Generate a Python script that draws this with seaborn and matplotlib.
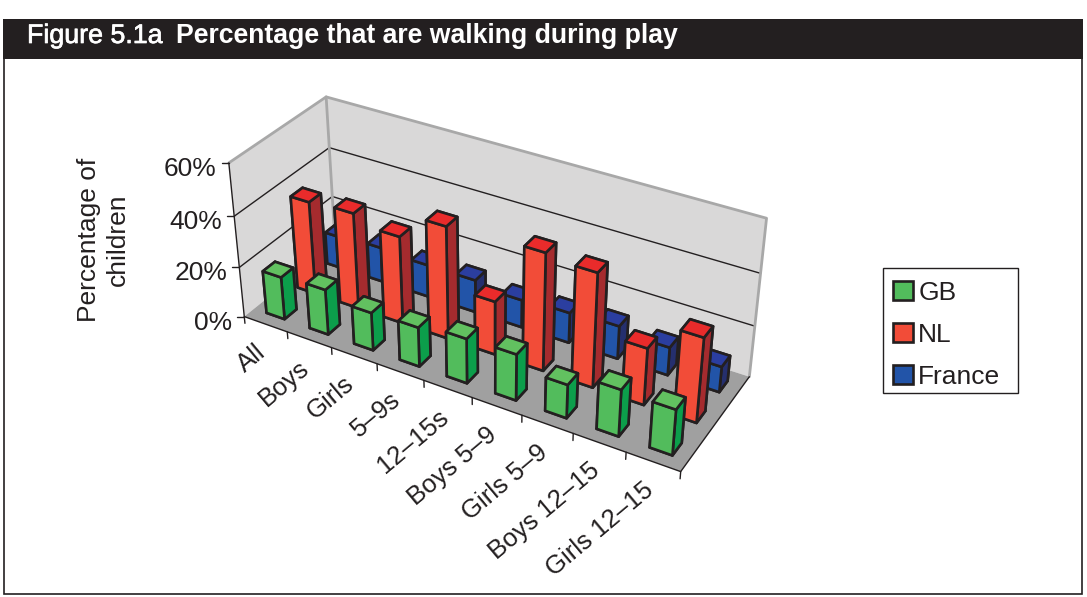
import numpy as np
import matplotlib
matplotlib.use("Agg")
import matplotlib.pyplot as plt
import matplotlib.patheffects as pe
import seaborn as sns
from matplotlib.lines import Line2D
from matplotlib.patches import Patch, Rectangle
from mpl_toolkits.mplot3d.art3d import Poly3DCollection

categories = ["All", "Boys", "Girls", "5–9s", "12–15s", "Boys 5–9", "Girls 5–9", "Boys 12–15", "Girls 12–15"]
series = ["GB", "NL", "France"]
gb = [17, 18, 15, 15.5, 17.5, 18, 13, 18, 17.5]
nl = [37, 38, 34.5, 44, 21, 45.5, 44, 22, 32.5]
france = [13, 14, 13, 13, 11, 12, 13, 11, 10]
y_ticks = [0, 20, 40, 60]

front_cols = ["#52BC5C", "#F24C38", "#2254A8"]
side_cols = ["#0C9E4B", "#A52B2E", "#252F6E"]
top_cols = ["#62C160", "#E92B2B", "#2B3EA0"]
ink = "#231F20"

W, H = 1087, 597

sns.set_theme(style="white")
plt.rcParams["font.family"] = ["Liberation Sans", "DejaVu Sans"]
plt.rcParams["text.color"] = ink

# camera: box corners as they sit on the page (x cat, y row, z percent) -> pixel
world = np.array([[0, 0, 0], [0, 0, 20], [0, 0, 40], [0, 0, 60], [0, 3, 60], [0, 3, 40], [0, 3, 20],
                  [9, 3, 60], [9, 3, 40], [9, 3, 20], [9, 3, 0], [9, 0, 0], [3, 0, 0], [6, 0, 0]], float)
page = np.array([[244.3, 315.7], [239.3, 267], [234.3, 216], [229, 163.3], [325.7, 96.7], [329.3, 147.7],
                 [332.7, 196.7], [767.3, 218.3], [760, 273.3], [754, 326], [750, 376.7], [681, 470.7],
                 [376.7, 365], [521.7, 416]])


def fit_camera(world, page):
    sw = np.diag([1 / 9, 1 / 3, 1 / 60, 1])
    sp = np.diag([1000, 1000, 1])
    rows = []
    for (x, y, z), (u, v) in zip(world, page):
        p = np.array([x / 9, y / 3, z / 60, 1])
        u, v = u / 1000, v / 1000
        rows.append(np.r_[p, 0 * p, -u * p])
        rows.append(np.r_[0 * p, p, -v * p])
    cam = np.linalg.svd(np.array(rows))[2][-1].reshape(3, 4)
    cam = sp @ cam @ sw
    cam /= cam[2] @ np.array([4.5, 1.5, 30, 1])
    return cam


cam = fit_camera(world, page)


def to_px(x, y, z):
    u = cam @ np.array([x, y, z, 1.0])
    return u[0] / u[2], u[1] / u[2]


def fx(u):
    return u / W


def fy(v):
    return 1 - v / H


fig = plt.figure(figsize=(W / 100, H / 100), dpi=100)
# square axes bigger than the figure, Axes3D forces a square box
ax = fig.add_axes([0, 0.5 - W / H / 2, 1, W / H], projection="3d")
ax.set_axis_off()
ax.computed_zorder = False


def page_proj():
    flip = np.array([[1, 0, 0], [0, -1, H], [0, 0, 1.0]])
    p = ax.transData.inverted().get_matrix() @ flip @ cam
    # negative z/w that grows with distance, the way mplot3d wants it
    depth = np.array([0, 0, 0, -0.5])
    return np.vstack([p[0], p[1], depth, p[2]])


ax.get_proj = page_proj

wall = "#D9D8D8"
floor = "#A0A0A0"
grey = "#A8A8A8"

ax.add_collection3d(Poly3DCollection([[(0, 0, 0), (0, 3, 0), (0, 3, 60), (0, 0, 60)]], facecolors=wall, edgecolors="none", zorder=1))
ax.add_collection3d(Poly3DCollection([[(0, 3, 0), (9, 3, 0), (9, 3, 60), (0, 3, 60)]], facecolors=wall, edgecolors="none", zorder=1))
ax.add_collection3d(Poly3DCollection([[(0, 0, 0), (9, 0, 0), (9, 3, 0), (0, 3, 0)]], facecolors=floor, edgecolors="none", zorder=2))

for t in y_ticks[1:-1]:
    ax.plot([0, 0, 9], [0, 3, 3], [t, t, t], color=ink, lw=1.0, zorder=3)
ax.plot([0, 0, 9, 9], [0, 3, 3, 3], [60, 60, 60, 0], color=grey, lw=2.0, zorder=3)
ax.plot([0, 0], [3, 3], [0, 60], color=grey, lw=2.0, zorder=3)
ax.plot([0, 0, 9, 9], [0, 0, 0, 3], [60, 0, 0, 0], color=ink, lw=1.0, zorder=4)
for i in range(len(categories) + 1):
    ax.plot([i, i], [0, 0], [0, -2.8], color=ink, lw=1.0, zorder=4)

# bars, back row first, left to right
order = 10
rows = [gb, nl, france]
bar_w = 0.42
bar_d = 0.38
for s in [2, 1, 0]:
    for i, val in enumerate(rows[s]):
        face = [side_cols[s], top_cols[s], front_cols[s], side_cols[s], side_cols[s], side_cols[s]]
        ax.bar3d(i + 0.5 - bar_w / 2, s + 0.5 - bar_d / 2, 0, bar_w, bar_d, val, color=face,
                 shade=False, edgecolor=ink, linewidth=1.9, zorder=order)
        order += 1

# y ticks and labels
for t in y_ticks:
    u, v = to_px(0, 0, t)
    fig.add_artist(Line2D([fx(u - 7), fx(u)], [fy(v), fy(v)], color=ink, lw=1.0))
    fig.text(fx(u - 12), fy(v + 6), f"{t}%", ha="right", va="center", fontsize=19)

# category labels
for i, name in enumerate(categories):
    u, v = to_px(i + 0.5, 0, 0)
    fig.text(fx(u - 3), fy(v + 25), name, ha="right", va="center", rotation=40, rotation_mode="anchor", fontsize=18.5)

fig.text(fx(103), fy(240), "Percentage of\nchildren", rotation=90, ha="center", va="center", fontsize=19, linespacing=1.25, multialignment="center")

# legend: box drawn on its own, entries placed by the legend
fig.add_artist(Rectangle((fx(883.3), fy(393.3)), 135 / W, 125 / H, facecolor="white", edgecolor=ink, lw=1.0, transform=fig.transFigure))
handles = [Patch(facecolor=c, edgecolor=ink, linewidth=1.9) for c in front_cols]
leg = fig.legend(handles, series, loc="upper left", bbox_to_anchor=(fx(881.5), fy(269)), fontsize=19,
                 frameon=False, borderaxespad=0, borderpad=0.45,
                 handlelength=0.74, handleheight=0.74, handletextpad=0.2, labelspacing=0.68)
leg.set_zorder(20)

# header band and page frame
fig.add_artist(Rectangle((fx(4), fy(594)), fx(1082 - 4), 590 / H - 19 / H, fill=False, edgecolor=ink, lw=1.2, transform=fig.transFigure))
fig.add_artist(Rectangle((fx(3), fy(59)), fx(1083 - 3), 40 / H, facecolor=ink, edgecolor="none", transform=fig.transFigure))
fig.text(fx(27), fy(36), "Figure 5.1a", color="white", fontsize=19.3, va="center", ha="left",
         path_effects=[pe.withStroke(linewidth=0.5, foreground="white")])
fig.text(fx(176), fy(36), "Percentage that are walking during play", color="white", fontsize=19.2, fontweight="bold", va="center", ha="left")

fig.savefig("out.png", dpi=100)
